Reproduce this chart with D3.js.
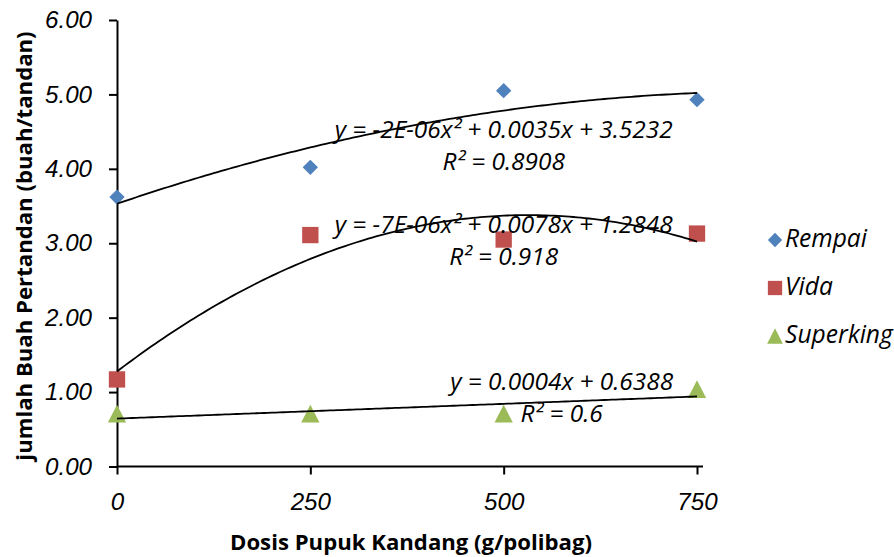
<!DOCTYPE html>
<html lang="id">
<head>
<meta charset="UTF-8">
<title>Jumlah Buah Pertandan</title>
<style>
    body, html { margin: 0; padding: 0; background: #fff; }
    svg { display: block; font-family: 'Open Sans', Lato, sans-serif; }
    .tick text { font-style: italic; fill: #000; }
    .domain, .tick line { stroke: #000; stroke-width: 2px; }
    .trend { fill: none; stroke: #000; stroke-width: 1.8px; }
    .eq { font-style: italic; fill: #000; }
    .axis-title { font-weight: bold; fill: #000; }
    .legend text { font-style: italic; fill: #000; }
</style>
</head>
<body>
<svg width="894" height="557"></svg>
<script src="https://d3js.org/d3.v7.min.js"></script>
<script>
    // data
    const doses = [0, 250, 500, 750];
    const rempai = [3.62, 4.02, 5.05, 4.93];
    const vida = [1.17, 3.11, 3.05, 3.13];
    const superking = [0.71, 0.71, 0.71, 1.04];
    const seriesNames = ["Rempai", "Vida", "Superking"];
    const fitOrders = [2, 2, 1];
    const eqLabels = [
        ["y = -2E-06x² + 0.0035x + 3.5232", "R² = 0.8908"],
        ["y = -7E-06x² + 0.0078x + 1.2848", "R² = 0.918"],
        ["y = 0.0004x + 0.6388", "R² = 0.6"]
    ];
    const xTicks = [0, 250, 500, 750];
    const yTicks = [0, 1, 2, 3, 4, 5, 6];

    // Excel style triangle, centred on its bounding box
    const excelTriangle = {
        draw(ctx, size) {
            const w = Math.sqrt(size * 2 / 0.97), h = w * 0.97;
            ctx.moveTo(0, -h / 2);
            ctx.lineTo(w / 2, h / 2);
            ctx.lineTo(-w / 2, h / 2);
            ctx.closePath();
        }
    };

    const colors = ["#4F81BD", "#C0504D", "#9BBB59"];
    const symbols = [d3.symbolDiamond2, d3.symbolSquare2, excelTriangle];
    const symSize = [150, 340, 162];
    const legSymSize = [130, 260, 120];
    // label anchors in data units [x, y of equation baseline, y of R² baseline]
    const labelAt = [[500, 4.41, 3.98], [500, 3.14, 2.71], [575, 1.03, 0.60]];

    const svg = d3.select("svg");
    const x = d3.scaleLinear().domain([0, 750]).range([117, 697]);
    const y = d3.scaleLinear().domain([0, 6]).range([466.5, 20]);

    // pick a font size so that a sample string gets the width seen in the original
    function sizeFor(sample, cls, width) {
        const t = svg.append("text").attr("class", cls).style("font-size", "20px").text(sample);
        const w = t.node().getComputedTextLength();
        t.remove();
        return (20 * width / w).toFixed(2) + "px";
    }
    const tickSize = sizeFor("6.00", "eq", 46);
    const eqSize = sizeFor(eqLabels[0][0], "eq", 338);
    const titleSize = sizeFor("Dosis Pupuk Kandang (g/polibag)", "axis-title", 362);
    const legSize = sizeFor("Rempai", "eq", 82);

    // least squares polynomial fit
    function polyfit(xs, ys, order) {
        const n = order + 1;
        const A = [];
        for (let i = 0; i < n; i++) {
            A.push([]);
            for (let j = 0; j < n; j++) A[i].push(d3.sum(xs, v => Math.pow(v, i + j)));
            A[i].push(d3.sum(xs, (v, k) => ys[k] * Math.pow(v, i)));
        }
        for (let i = 0; i < n; i++) {
            for (let r = i + 1; r < n; r++) {
                const f = A[r][i] / A[i][i];
                for (let c = i; c <= n; c++) A[r][c] -= f * A[i][c];
            }
        }
        const coef = new Array(n).fill(0);
        for (let i = n - 1; i >= 0; i--) {
            let s = A[i][n];
            for (let j = i + 1; j < n; j++) s -= A[i][j] * coef[j];
            coef[i] = s / A[i][i];
        }
        return v => coef.reduce((acc, c, i) => acc + c * Math.pow(v, i), 0);
    }

    // axes
    const xAxis = svg.append("g").attr("transform", `translate(0,${y(0)})`)
        .call(d3.axisBottom(x).tickValues(xTicks).tickSize(8).tickSizeOuter(0).tickPadding(10));
    xAxis.select(".domain").attr("d", `M${x(0)},0H${x(750) + 6}`);
    xAxis.selectAll(".tick text").attr("dy", "1.05em").style("font-size", tickSize);

    const yAxis = svg.append("g").attr("transform", `translate(${x(0)},0)`)
        .call(d3.axisLeft(y).tickValues(yTicks).tickSize(8).tickSizeOuter(0).tickPadding(17)
            .tickFormat(d3.format(".2f")));
    yAxis.selectAll(".tick text").style("font-size", tickSize);

    svg.append("text").attr("class", "axis-title").style("font-size", titleSize)
        .attr("x", 411).attr("y", 550).attr("text-anchor", "middle")
        .text("Dosis Pupuk Kandang (g/polibag)");
    svg.append("text").attr("class", "axis-title").style("font-size", titleSize)
        .attr("transform", "translate(32,246) rotate(-90)").attr("text-anchor", "middle")
        .text("jumlah Buah Pertandan (buah/tandan)");

    const allSeries = [rempai, vida, superking];

    // markers
    allSeries.forEach((vals, i) => {
        svg.append("g").selectAll("path")
            .data(vals)
            .join("path")
            .attr("transform", (d, k) => `translate(${x(doses[k])},${y(d)})`)
            .attr("d", d3.symbol(symbols[i], symSize[i]))
            .attr("fill", colors[i]);
    });

    // trendlines
    const line = d3.line().x(d => x(d[0])).y(d => y(d[1]));
    allSeries.forEach((vals, i) => {
        const f = polyfit(doses, vals, fitOrders[i]);
        const pts = d3.range(0, 751, 5).map(v => [v, f(v)]);
        svg.append("path").attr("class", "trend").attr("d", line(pts));
    });

    // trendline labels
    eqLabels.forEach((lab, i) => {
        const a = labelAt[i];
        svg.append("text").attr("class", "eq").style("font-size", eqSize).attr("text-anchor", "middle")
            .attr("x", x(a[0])).attr("y", y(a[1])).text(lab[0]);
        svg.append("text").attr("class", "eq").style("font-size", eqSize).attr("text-anchor", "middle")
            .attr("x", x(a[0])).attr("y", y(a[2])).text(lab[1]);
    });

    // legend
    const legend = svg.append("g").attr("class", "legend");
    seriesNames.forEach((name, i) => {
        const cy = 240 + i * 48;
        legend.append("path")
            .attr("transform", `translate(775,${cy})`)
            .attr("d", d3.symbol(symbols[i], legSymSize[i]))
            .attr("fill", colors[i]);
        legend.append("text").style("font-size", legSize)
            .attr("x", 785).attr("y", cy + 7).text(name);
    });
</script>
</body>
</html>
